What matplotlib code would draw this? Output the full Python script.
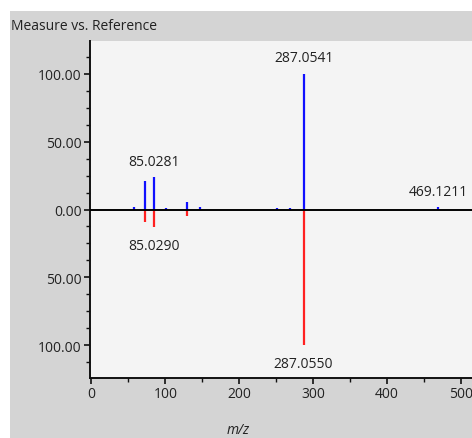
import matplotlib.pyplot as plt
from matplotlib.patches import Rectangle
from matplotlib.ticker import MultipleLocator, FuncFormatter

plt.rcParams['font.family'] = ['Open Sans', 'DejaVu Sans']

# measured spectrum (drawn upward)
measured_mz = [57.0, 72.0, 85.0281, 101.0, 129.0, 147.0, 251.0, 269.0, 287.0541, 469.1211]
measured_int = [1.5, 21.0, 24.0, 1.2, 5.5, 1.5, 1.2, 1.2, 100.0, 1.5]

# reference spectrum (drawn downward)
reference_mz = [72.0, 85.0290, 129.0, 287.0550]
reference_int = [9.0, 13.0, 5.0, 100.0]

# peaks that get an m/z label
measured_labels = ['85.0281', '287.0541', '469.1211']
reference_labels = ['85.0290', '287.0550']

FS = 10

W, H = 472, 439
fig = plt.figure(figsize=(W / 100, H / 100), dpi=100, facecolor='white')
# grey panel behind the chart
fig.patches.append(Rectangle((10 / W, 0), 1 - 10 / W, (H - 12) / H,
                             transform=fig.transFigure, facecolor='#d4d4d4',
                             edgecolor='none', zorder=-5))
fig.text(11 / W, 1 - 26 / H, 'Measure vs. Reference', fontsize=FS,
         color='#222222', va='center', ha='left')

ax = fig.add_axes([90 / W, (H - 379) / H, (W - 90) / W, (379 - 42) / H])
ax.set_facecolor('#f4f4f4')

ax.vlines(measured_mz, 0, measured_int, color='#1010ff', lw=1.6, zorder=2)
ax.vlines(reference_mz, 0, [-v for v in reference_int], color='#ff2020', lw=1.6, zorder=2)
ax.axhline(0, color='black', lw=1.4, zorder=3)

for lab in measured_labels:
    i = [f'{m:.4f}' for m in measured_mz].index(lab)
    ax.annotate(lab, (measured_mz[i], measured_int[i]), xytext=(0, 6),
                textcoords='offset points', ha='center', va='bottom',
                fontsize=FS, color='#222222', annotation_clip=False)
for lab in reference_labels:
    i = [f'{m:.4f}' for m in reference_mz].index(lab)
    ax.annotate(lab, (reference_mz[i], -reference_int[i]), xytext=(0, -8),
                textcoords='offset points', ha='center', va='top',
                fontsize=FS, color='#222222', annotation_clip=False)

ax.set_xlim(-2, 515)
ax.set_ylim(-124, 124)

ax.xaxis.set_major_locator(MultipleLocator(100))
ax.xaxis.set_minor_locator(MultipleLocator(50))
ax.yaxis.set_major_locator(MultipleLocator(50))
ax.yaxis.set_minor_locator(MultipleLocator(12.5))
ax.yaxis.set_major_formatter(FuncFormatter(lambda v, p: f'{abs(v):.2f}'))

for s in ['top', 'right']:
    ax.spines[s].set_visible(False)
for s in ['left', 'bottom']:
    ax.spines[s].set_linewidth(1.4)
    ax.spines[s].set_color('#111111')

ax.tick_params(which='major', length=4, width=1.2, labelsize=FS, colors='#111111',
               labelcolor='#222222', pad=2)
ax.tick_params(which='minor', length=3, width=1.0, colors='#111111')

fig.text(238 / W, 1 - 431 / H, 'm/z', style='italic', fontsize=FS,
         color='#222222', ha='center', va='center')

fig.savefig('out.png', dpi=100, facecolor='white')
